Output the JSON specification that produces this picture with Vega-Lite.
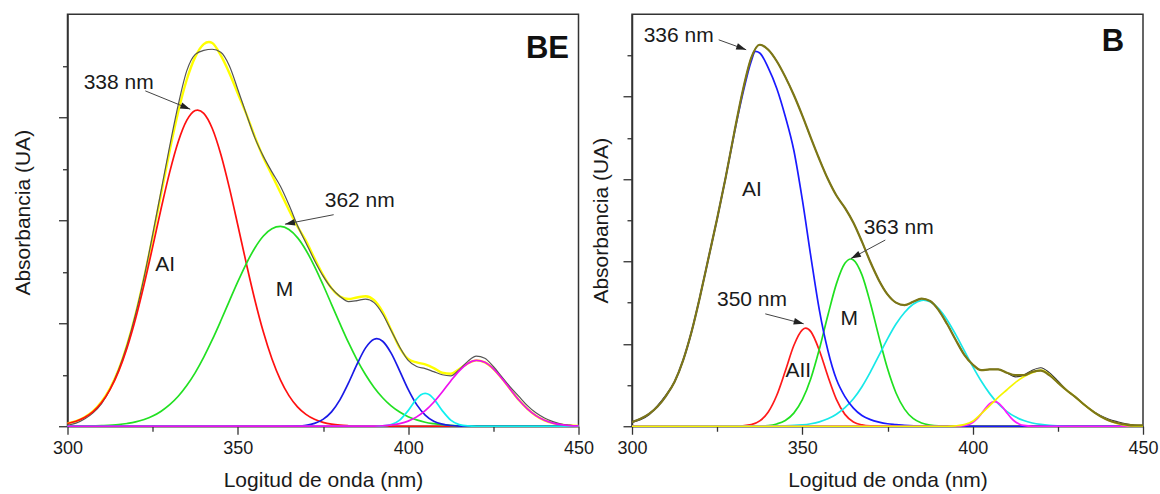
{
  "$schema": "https://vega.github.io/schema/vega-lite/v6.json",
  "autosize": {"type": "pad"},
  "padding": {"left": 10.5, "top": 13.25, "right": 0, "bottom": 0},
  "background": "white",
  "config": {
    "font": "Liberation Sans",
    "view": {"stroke": "#333333", "strokeWidth": 1.5},
    "axis": {"domainColor": "#333333", "domainWidth": 1.5, "tickColor": "#333333", "tickWidth": 1.3, "grid": false, "labelFont": "Liberation Sans", "titleFont": "Liberation Sans", "labelColor": "#1a1a1a", "titleColor": "#1a1a1a", "titleFontWeight": "normal"},
    "text": {"font": "Liberation Sans"}
  },
  "datasets": {
    "L": [
      {"s":"f","x":300,"y":0.028},{"s":"f","x":302.5,"y":0.05},{"s":"f","x":305,"y":0.087},{"s":"f","x":307.5,"y":0.146},{"s":"f","x":310,"y":0.237},{"s":"f","x":312.5,"y":0.368},{"s":"f","x":315,"y":0.549},{"s":"f","x":317.5,"y":0.79},{"s":"f","x":320,"y":1.088},{"s":"f","x":322.5,"y":1.444},{"s":"f","x":325,"y":1.841},{"s":"f","x":327.5,"y":2.262},{"s":"f","x":330,"y":2.676},{"s":"f","x":332.5,"y":3.053},{"s":"f","x":335,"y":3.364},{"s":"f","x":337.5,"y":3.586},{"s":"f","x":340,"y":3.71},{"s":"f","x":341.5,"y":3.73},{"s":"f","x":342.5,"y":3.72},{"s":"f","x":345,"y":3.6},{"s":"f","x":347.5,"y":3.43},{"s":"f","x":350,"y":3.23},{"s":"f","x":352.5,"y":3.03},{"s":"f","x":355,"y":2.81},{"s":"f","x":357.5,"y":2.61},{"s":"f","x":360,"y":2.44},{"s":"f","x":362.5,"y":2.27},{"s":"f","x":365,"y":2.1},{"s":"f","x":367.5,"y":1.94},{"s":"f","x":370,"y":1.8},{"s":"f","x":372.5,"y":1.63},{"s":"f","x":375,"y":1.47},{"s":"f","x":377.5,"y":1.34},{"s":"f","x":380,"y":1.26},{"s":"f","x":382.5,"y":1.235},{"s":"f","x":385,"y":1.25},{"s":"f","x":387.5,"y":1.262},{"s":"f","x":390,"y":1.224},{"s":"f","x":392.5,"y":1.11},{"s":"f","x":395,"y":0.936},{"s":"f","x":397.5,"y":0.762},{"s":"f","x":400,"y":0.653},{"s":"f","x":402.5,"y":0.62},{"s":"f","x":405,"y":0.6},{"s":"f","x":407.5,"y":0.565},{"s":"f","x":410,"y":0.519},{"s":"f","x":412.5,"y":0.51},{"s":"f","x":415,"y":0.555},{"s":"f","x":417.5,"y":0.61},{"s":"f","x":420,"y":0.64},{"s":"f","x":422.5,"y":0.621},{"s":"f","x":425,"y":0.558},{"s":"f","x":427.5,"y":0.465},{"s":"f","x":430,"y":0.358},{"s":"f","x":432.5,"y":0.255},{"s":"f","x":435,"y":0.169},{"s":"f","x":437.5,"y":0.103},{"s":"f","x":440,"y":0.058},{"s":"f","x":442.5,"y":0.031},{"s":"f","x":445,"y":0.015},{"s":"f","x":447.5,"y":0.007},{"s":"f","x":450,"y":0.003},
      {"s":"d","x":300,"y":0.01},{"s":"d","x":302.5,"y":0.03},{"s":"d","x":305,"y":0.07},{"s":"d","x":307.5,"y":0.13},{"s":"d","x":310,"y":0.22},{"s":"d","x":312.5,"y":0.36},{"s":"d","x":315,"y":0.55},{"s":"d","x":317.5,"y":0.79},{"s":"d","x":320,"y":1.09},{"s":"d","x":322.5,"y":1.45},{"s":"d","x":325,"y":1.86},{"s":"d","x":327.5,"y":2.29},{"s":"d","x":330,"y":2.72},{"s":"d","x":332.5,"y":3.12},{"s":"d","x":335,"y":3.45},{"s":"d","x":337.5,"y":3.61},{"s":"d","x":340,"y":3.65},{"s":"d","x":342.5,"y":3.66},{"s":"d","x":345,"y":3.63},{"s":"d","x":347.5,"y":3.5},{"s":"d","x":350,"y":3.27},{"s":"d","x":352.5,"y":3.03},{"s":"d","x":355,"y":2.8},{"s":"d","x":357.5,"y":2.62},{"s":"d","x":360,"y":2.47},{"s":"d","x":362.5,"y":2.33},{"s":"d","x":365,"y":2.15},{"s":"d","x":367.5,"y":1.95},{"s":"d","x":370,"y":1.78},{"s":"d","x":372.5,"y":1.61},{"s":"d","x":375,"y":1.46},{"s":"d","x":377.5,"y":1.34},{"s":"d","x":380,"y":1.26},{"s":"d","x":382.5,"y":1.21},{"s":"d","x":385,"y":1.22},{"s":"d","x":387.5,"y":1.235},{"s":"d","x":390,"y":1.2},{"s":"d","x":392.5,"y":1.09},{"s":"d","x":395,"y":0.93},{"s":"d","x":397.5,"y":0.77},{"s":"d","x":400,"y":0.64},{"s":"d","x":402.5,"y":0.58},{"s":"d","x":405,"y":0.56},{"s":"d","x":407.5,"y":0.53},{"s":"d","x":410,"y":0.5},{"s":"d","x":412.5,"y":0.49},{"s":"d","x":415,"y":0.55},{"s":"d","x":417.5,"y":0.63},{"s":"d","x":420,"y":0.68},{"s":"d","x":422.5,"y":0.66},{"s":"d","x":425,"y":0.58},{"s":"d","x":427.5,"y":0.48},{"s":"d","x":430,"y":0.38},{"s":"d","x":432.5,"y":0.29},{"s":"d","x":435,"y":0.2},{"s":"d","x":437.5,"y":0.13},{"s":"d","x":440,"y":0.08},{"s":"d","x":442.5,"y":0.045},{"s":"d","x":445,"y":0.02},{"s":"d","x":447.5,"y":0.01},{"s":"d","x":450,"y":0},
      {"s":"r","x":300,"y":0.027},{"s":"r","x":302.5,"y":0.049},{"s":"r","x":305,"y":0.085},{"s":"r","x":307.5,"y":0.143},{"s":"r","x":310,"y":0.231},{"s":"r","x":312.5,"y":0.358},{"s":"r","x":315,"y":0.533},{"s":"r","x":317.5,"y":0.763},{"s":"r","x":320,"y":1.046},{"s":"r","x":322.5,"y":1.378},{"s":"r","x":325,"y":1.742},{"s":"r","x":327.5,"y":2.116},{"s":"r","x":330,"y":2.467},{"s":"r","x":332.5,"y":2.762},{"s":"r","x":335,"y":2.969},{"s":"r","x":337.5,"y":3.065},{"s":"r","x":338.2,"y":3.07},{"s":"r","x":340,"y":3.038},{"s":"r","x":342.5,"y":2.891},{"s":"r","x":345,"y":2.641},{"s":"r","x":347.5,"y":2.317},{"s":"r","x":350,"y":1.952},{"s":"r","x":352.5,"y":1.579},{"s":"r","x":355,"y":1.226},{"s":"r","x":357.5,"y":0.914},{"s":"r","x":360,"y":0.655},{"s":"r","x":362.5,"y":0.45},{"s":"r","x":365,"y":0.297},{"s":"r","x":367.5,"y":0.188},{"s":"r","x":370,"y":0.115},{"s":"r","x":372.5,"y":0.067},{"s":"r","x":375,"y":0.038},{"s":"r","x":377.5,"y":0.02},{"s":"r","x":380,"y":0.01},{"s":"r","x":382.5,"y":0.005},{"s":"r","x":385,"y":0.002},{"s":"r","x":390,"y":0},{"s":"r","x":450,"y":0},
      {"s":"g","x":300,"y":0},{"s":"g","x":305,"y":0.002},{"s":"g","x":310,"y":0.006},{"s":"g","x":315,"y":0.016},{"s":"g","x":317.5,"y":0.027},{"s":"g","x":320,"y":0.042},{"s":"g","x":322.5,"y":0.066},{"s":"g","x":325,"y":0.099},{"s":"g","x":327.5,"y":0.146},{"s":"g","x":330,"y":0.209},{"s":"g","x":332.5,"y":0.291},{"s":"g","x":335,"y":0.395},{"s":"g","x":337.5,"y":0.521},{"s":"g","x":340,"y":0.671},{"s":"g","x":342.5,"y":0.84},{"s":"g","x":345,"y":1.024},{"s":"g","x":347.5,"y":1.215},{"s":"g","x":350,"y":1.404},{"s":"g","x":352.5,"y":1.58},{"s":"g","x":355,"y":1.731},{"s":"g","x":357.5,"y":1.847},{"s":"g","x":360,"y":1.918},{"s":"g","x":362.5,"y":1.94},{"s":"g","x":365,"y":1.91},{"s":"g","x":367.5,"y":1.831},{"s":"g","x":370,"y":1.709},{"s":"g","x":372.5,"y":1.553},{"s":"g","x":375,"y":1.374},{"s":"g","x":377.5,"y":1.184},{"s":"g","x":380,"y":0.994},{"s":"g","x":382.5,"y":0.811},{"s":"g","x":385,"y":0.645},{"s":"g","x":387.5,"y":0.5},{"s":"g","x":390,"y":0.377},{"s":"g","x":392.5,"y":0.277},{"s":"g","x":395,"y":0.198},{"s":"g","x":397.5,"y":0.138},{"s":"g","x":400,"y":0.093},{"s":"g","x":402.5,"y":0.062},{"s":"g","x":405,"y":0.039},{"s":"g","x":407.5,"y":0.025},{"s":"g","x":410,"y":0.015},{"s":"g","x":412.5,"y":0.009},{"s":"g","x":415,"y":0.005},{"s":"g","x":420,"y":0.001},{"s":"g","x":450,"y":0},
      {"s":"b","x":300,"y":0},{"s":"b","x":362.5,"y":0},{"s":"b","x":365,"y":0.001},{"s":"b","x":367.5,"y":0.003},{"s":"b","x":370,"y":0.01},{"s":"b","x":372.5,"y":0.028},{"s":"b","x":375,"y":0.067},{"s":"b","x":377.5,"y":0.14},{"s":"b","x":380,"y":0.259},{"s":"b","x":382.5,"y":0.421},{"s":"b","x":385,"y":0.603},{"s":"b","x":387.5,"y":0.761},{"s":"b","x":390,"y":0.845},{"s":"b","x":390.8,"y":0.85},{"s":"b","x":392.5,"y":0.825},{"s":"b","x":395,"y":0.71},{"s":"b","x":397.5,"y":0.538},{"s":"b","x":400,"y":0.358},{"s":"b","x":402.5,"y":0.21},{"s":"b","x":405,"y":0.109},{"s":"b","x":407.5,"y":0.049},{"s":"b","x":410,"y":0.02},{"s":"b","x":412.5,"y":0.007},{"s":"b","x":415,"y":0.002},{"s":"b","x":420,"y":0},{"s":"b","x":450,"y":0},
      {"s":"c","x":300,"y":0},{"s":"c","x":390,"y":0},{"s":"c","x":392.5,"y":0.003},{"s":"c","x":395,"y":0.016},{"s":"c","x":397.5,"y":0.06},{"s":"c","x":400,"y":0.152},{"s":"c","x":402.5,"y":0.266},{"s":"c","x":403.75,"y":0.306},{"s":"c","x":405,"y":0.32},{"s":"c","x":406.25,"y":0.306},{"s":"c","x":407.5,"y":0.266},{"s":"c","x":410,"y":0.152},{"s":"c","x":412.5,"y":0.06},{"s":"c","x":415,"y":0.016},{"s":"c","x":417.5,"y":0.003},{"s":"c","x":420,"y":0},{"s":"c","x":450,"y":0},
      {"s":"m","x":300,"y":0},{"s":"m","x":385,"y":0.001},{"s":"m","x":390,"y":0.002},{"s":"m","x":392.5,"y":0.005},{"s":"m","x":395,"y":0.012},{"s":"m","x":397.5,"y":0.026},{"s":"m","x":400,"y":0.05},{"s":"m","x":402.5,"y":0.091},{"s":"m","x":405,"y":0.151},{"s":"m","x":407.5,"y":0.233},{"s":"m","x":410,"y":0.332},{"s":"m","x":412.5,"y":0.44},{"s":"m","x":415,"y":0.538},{"s":"m","x":417.5,"y":0.61},{"s":"m","x":420,"y":0.64},{"s":"m","x":422.5,"y":0.621},{"s":"m","x":425,"y":0.558},{"s":"m","x":427.5,"y":0.465},{"s":"m","x":430,"y":0.358},{"s":"m","x":432.5,"y":0.255},{"s":"m","x":435,"y":0.169},{"s":"m","x":437.5,"y":0.103},{"s":"m","x":440,"y":0.058},{"s":"m","x":442.5,"y":0.031},{"s":"m","x":445,"y":0.015},{"s":"m","x":447.5,"y":0.007},{"s":"m","x":450,"y":0.003}
    ],
    "R": [
      {"s":"f","x":300,"y":0.05},{"s":"f","x":302.5,"y":0.09},{"s":"f","x":305,"y":0.15},{"s":"f","x":307.5,"y":0.24},{"s":"f","x":310,"y":0.37},{"s":"f","x":312.5,"y":0.54},{"s":"f","x":315,"y":0.8},{"s":"f","x":317.5,"y":1.15},{"s":"f","x":320,"y":1.58},{"s":"f","x":322.5,"y":2.05},{"s":"f","x":325,"y":2.52},{"s":"f","x":327.5,"y":3.02},{"s":"f","x":330,"y":3.56},{"s":"f","x":332.5,"y":4.07},{"s":"f","x":335,"y":4.47},{"s":"f","x":337.5,"y":4.63},{"s":"f","x":340,"y":4.57},{"s":"f","x":342.5,"y":4.43},{"s":"f","x":345,"y":4.24},{"s":"f","x":347.5,"y":4.02},{"s":"f","x":350,"y":3.77},{"s":"f","x":352.5,"y":3.5},{"s":"f","x":355,"y":3.24},{"s":"f","x":357.5,"y":3.0},{"s":"f","x":360,"y":2.8},{"s":"f","x":362.5,"y":2.65},{"s":"f","x":365,"y":2.47},{"s":"f","x":367.5,"y":2.24},{"s":"f","x":370,"y":1.99},{"s":"f","x":372.5,"y":1.77},{"s":"f","x":375,"y":1.6},{"s":"f","x":377.5,"y":1.5},{"s":"f","x":380,"y":1.47},{"s":"f","x":382.5,"y":1.51},{"s":"f","x":385,"y":1.55},{"s":"f","x":387.5,"y":1.52},{"s":"f","x":390,"y":1.41},{"s":"f","x":392.5,"y":1.24},{"s":"f","x":395,"y":1.05},{"s":"f","x":397.5,"y":0.87},{"s":"f","x":400,"y":0.75},{"s":"f","x":402.5,"y":0.68},{"s":"f","x":405,"y":0.69},{"s":"f","x":407.5,"y":0.69},{"s":"f","x":410,"y":0.65},{"s":"f","x":412.5,"y":0.62},{"s":"f","x":415,"y":0.62},{"s":"f","x":417.5,"y":0.66},{"s":"f","x":420,"y":0.675},{"s":"f","x":422.5,"y":0.62},{"s":"f","x":425,"y":0.53},{"s":"f","x":427.5,"y":0.44},{"s":"f","x":430,"y":0.36},{"s":"f","x":432.5,"y":0.27},{"s":"f","x":435,"y":0.19},{"s":"f","x":437.5,"y":0.12},{"s":"f","x":440,"y":0.07},{"s":"f","x":442.5,"y":0.04},{"s":"f","x":445,"y":0.02},{"s":"f","x":447.5,"y":0.01},{"s":"f","x":450,"y":0.01},
      {"s":"d","x":300,"y":0.05},{"s":"d","x":302.5,"y":0.08},{"s":"d","x":305,"y":0.14},{"s":"d","x":307.5,"y":0.25},{"s":"d","x":310,"y":0.38},{"s":"d","x":312.5,"y":0.54},{"s":"d","x":315,"y":0.8},{"s":"d","x":317.5,"y":1.15},{"s":"d","x":320,"y":1.58},{"s":"d","x":322.5,"y":2.05},{"s":"d","x":325,"y":2.52},{"s":"d","x":327.5,"y":3.02},{"s":"d","x":330,"y":3.56},{"s":"d","x":332.5,"y":4.07},{"s":"d","x":335,"y":4.47},{"s":"d","x":337.5,"y":4.63},{"s":"d","x":340,"y":4.57},{"s":"d","x":342.5,"y":4.43},{"s":"d","x":345,"y":4.24},{"s":"d","x":347.5,"y":4.02},{"s":"d","x":350,"y":3.77},{"s":"d","x":352.5,"y":3.5},{"s":"d","x":355,"y":3.24},{"s":"d","x":357.5,"y":3.0},{"s":"d","x":360,"y":2.8},{"s":"d","x":362.5,"y":2.65},{"s":"d","x":365,"y":2.47},{"s":"d","x":367.5,"y":2.24},{"s":"d","x":370,"y":1.99},{"s":"d","x":372.5,"y":1.77},{"s":"d","x":375,"y":1.6},{"s":"d","x":377.5,"y":1.5},{"s":"d","x":380,"y":1.47},{"s":"d","x":382.5,"y":1.51},{"s":"d","x":385,"y":1.55},{"s":"d","x":387.5,"y":1.52},{"s":"d","x":390,"y":1.41},{"s":"d","x":392.5,"y":1.24},{"s":"d","x":395,"y":1.05},{"s":"d","x":397.5,"y":0.87},{"s":"d","x":400,"y":0.75},{"s":"d","x":402.5,"y":0.68},{"s":"d","x":405,"y":0.69},{"s":"d","x":407.5,"y":0.69},{"s":"d","x":410,"y":0.65},{"s":"d","x":412.5,"y":0.6},{"s":"d","x":415,"y":0.62},{"s":"d","x":417.5,"y":0.68},{"s":"d","x":420,"y":0.71},{"s":"d","x":422.5,"y":0.65},{"s":"d","x":425,"y":0.55},{"s":"d","x":427.5,"y":0.44},{"s":"d","x":430,"y":0.36},{"s":"d","x":432.5,"y":0.27},{"s":"d","x":435,"y":0.19},{"s":"d","x":437.5,"y":0.13},{"s":"d","x":440,"y":0.085},{"s":"d","x":442.5,"y":0.055},{"s":"d","x":445,"y":0.03},{"s":"d","x":447.5,"y":0.015},{"s":"d","x":450,"y":0.01},
      {"s":"b","x":300,"y":0.05},{"s":"b","x":302.5,"y":0.09},{"s":"b","x":305,"y":0.15},{"s":"b","x":307.5,"y":0.24},{"s":"b","x":310,"y":0.37},{"s":"b","x":312.5,"y":0.54},{"s":"b","x":315,"y":0.8},{"s":"b","x":317.5,"y":1.15},{"s":"b","x":320,"y":1.58},{"s":"b","x":322.5,"y":2.05},{"s":"b","x":325,"y":2.52},{"s":"b","x":327.5,"y":3.02},{"s":"b","x":330,"y":3.55},{"s":"b","x":332.5,"y":4.03},{"s":"b","x":335,"y":4.43},{"s":"b","x":336.2,"y":4.55},{"s":"b","x":337.5,"y":4.53},{"s":"b","x":340,"y":4.35},{"s":"b","x":342.5,"y":4.1},{"s":"b","x":345,"y":3.76},{"s":"b","x":347.5,"y":3.35},{"s":"b","x":350,"y":2.75},{"s":"b","x":352.5,"y":2.06},{"s":"b","x":355,"y":1.41},{"s":"b","x":357.5,"y":0.92},{"s":"b","x":360,"y":0.57},{"s":"b","x":362.5,"y":0.36},{"s":"b","x":365,"y":0.22},{"s":"b","x":367.5,"y":0.13},{"s":"b","x":370,"y":0.08},{"s":"b","x":372.5,"y":0.05},{"s":"b","x":375,"y":0.03},{"s":"b","x":377.5,"y":0.02},{"s":"b","x":380,"y":0.01},{"s":"b","x":385,"y":0},{"s":"b","x":450,"y":0},
      {"s":"r","x":300,"y":0},{"s":"r","x":330,"y":0},{"s":"r","x":335,"y":0.02},{"s":"r","x":337.5,"y":0.065},{"s":"r","x":340,"y":0.173},{"s":"r","x":342.5,"y":0.376},{"s":"r","x":345,"y":0.67},{"s":"r","x":347.5,"y":0.98},{"s":"r","x":350,"y":1.17},{"s":"r","x":351,"y":1.19},{"s":"r","x":352.5,"y":1.148},{"s":"r","x":355,"y":0.92},{"s":"r","x":357.5,"y":0.607},{"s":"r","x":360,"y":0.327},{"s":"r","x":362.5,"y":0.144},{"s":"r","x":365,"y":0.052},{"s":"r","x":367.5,"y":0.016},{"s":"r","x":370,"y":0.004},{"s":"r","x":375,"y":0},{"s":"r","x":450,"y":0},
      {"s":"g","x":300,"y":0},{"s":"g","x":335,"y":0},{"s":"g","x":340,"y":0.009},{"s":"g","x":342.5,"y":0.028},{"s":"g","x":345,"y":0.07},{"s":"g","x":347.5,"y":0.159},{"s":"g","x":350,"y":0.322},{"s":"g","x":352.5,"y":0.58},{"s":"g","x":355,"y":0.937},{"s":"g","x":357.5,"y":1.347},{"s":"g","x":360,"y":1.728},{"s":"g","x":362.5,"y":1.977},{"s":"g","x":364.2,"y":2.03},{"s":"g","x":365,"y":2.018},{"s":"g","x":367.5,"y":1.837},{"s":"g","x":370,"y":1.49},{"s":"g","x":372.5,"y":1.082},{"s":"g","x":375,"y":0.7},{"s":"g","x":377.5,"y":0.404},{"s":"g","x":380,"y":0.208},{"s":"g","x":382.5,"y":0.095},{"s":"g","x":385,"y":0.039},{"s":"g","x":387.5,"y":0.014},{"s":"g","x":390,"y":0.004},{"s":"g","x":395,"y":0},{"s":"g","x":450,"y":0},
      {"s":"c","x":300,"y":0},{"s":"c","x":345,"y":0.006},{"s":"c","x":350,"y":0.016},{"s":"c","x":352.5,"y":0.03},{"s":"c","x":355,"y":0.053},{"s":"c","x":357.5,"y":0.09},{"s":"c","x":360,"y":0.146},{"s":"c","x":362.5,"y":0.225},{"s":"c","x":365,"y":0.333},{"s":"c","x":367.5,"y":0.48},{"s":"c","x":370,"y":0.66},{"s":"c","x":372.5,"y":0.86},{"s":"c","x":375,"y":1.06},{"s":"c","x":377.5,"y":1.24},{"s":"c","x":380,"y":1.38},{"s":"c","x":382.5,"y":1.48},{"s":"c","x":385,"y":1.528},{"s":"c","x":385.6,"y":1.53},{"s":"c","x":387.5,"y":1.51},{"s":"c","x":390,"y":1.427},{"s":"c","x":392.5,"y":1.29},{"s":"c","x":395,"y":1.114},{"s":"c","x":397.5,"y":0.921},{"s":"c","x":400,"y":0.727},{"s":"c","x":402.5,"y":0.549},{"s":"c","x":405,"y":0.396},{"s":"c","x":407.5,"y":0.273},{"s":"c","x":410,"y":0.18},{"s":"c","x":412.5,"y":0.114},{"s":"c","x":415,"y":0.069},{"s":"c","x":417.5,"y":0.04},{"s":"c","x":420,"y":0.022},{"s":"c","x":422.5,"y":0.011},{"s":"c","x":425,"y":0.005},{"s":"c","x":430,"y":0},{"s":"c","x":450,"y":0},
      {"s":"m","x":300,"y":0},{"s":"m","x":395,"y":0},{"s":"m","x":397.5,"y":0.008},{"s":"m","x":398.75,"y":0.02},{"s":"m","x":400,"y":0.046},{"s":"m","x":401.25,"y":0.089},{"s":"m","x":402.5,"y":0.149},{"s":"m","x":403.75,"y":0.217},{"s":"m","x":405,"y":0.274},{"s":"m","x":406.4,"y":0.3},{"s":"m","x":407.5,"y":0.284},{"s":"m","x":408.75,"y":0.233},{"s":"m","x":410,"y":0.165},{"s":"m","x":411.25,"y":0.102},{"s":"m","x":412.5,"y":0.054},{"s":"m","x":413.75,"y":0.025},{"s":"m","x":415,"y":0.01},{"s":"m","x":417.5,"y":0},{"s":"m","x":450,"y":0},
      {"s":"y","x":300,"y":0},{"s":"y","x":392.5,"y":0},{"s":"y","x":395,"y":0.005},{"s":"y","x":397.5,"y":0.02},{"s":"y","x":400,"y":0.06},{"s":"y","x":402.5,"y":0.15},{"s":"y","x":405,"y":0.25},{"s":"y","x":407.5,"y":0.35},{"s":"y","x":410,"y":0.44},{"s":"y","x":412.5,"y":0.53},{"s":"y","x":415,"y":0.6},{"s":"y","x":417.5,"y":0.65},{"s":"y","x":420,"y":0.68},{"s":"y","x":422.5,"y":0.63},{"s":"y","x":425,"y":0.53},{"s":"y","x":427.5,"y":0.44},{"s":"y","x":430,"y":0.36},{"s":"y","x":432.5,"y":0.27},{"s":"y","x":435,"y":0.19},{"s":"y","x":437.5,"y":0.12},{"s":"y","x":440,"y":0.07},{"s":"y","x":442.5,"y":0.03},{"s":"y","x":445,"y":0.01},{"s":"y","x":447.5,"y":0},{"s":"y","x":450,"y":0}
    ]
  },
  "hconcat": [
    {
      "width": 511,
      "height": 412,
      "data": {"name": "L"},
      "encoding": {
        "x": {"field": "x", "type": "quantitative", "scale": {"domain": [300, 450], "nice": false, "zero": false},
          "axis": {"values": [300, 325, 350, 375, 400, 425, 450], "labelExpr": "datum.value % 50 === 0 ? datum.label : ''", "tickSize": {"condition": {"test": "datum.value % 50 === 0", "value": 8}, "value": 5}, "labelFontSize": 18, "labelPadding": 5, "labelOverlap": false, "labelFlush": false, "title": "Logitud de onda (nm)", "titleFontSize": 21, "titleY": 60, "titleBaseline": "alphabetic"}},
        "y": {"field": "y", "type": "quantitative", "scale": {"domain": [0, 4], "nice": false, "zero": false},
          "axis": {"values": [0, 0.5, 1, 1.5, 2, 2.5, 3, 3.5], "labels": false, "tickSize": {"condition": {"test": "datum.value % 1 === 0", "value": 9}, "value": 5}, "title": "Absorbancia (UA)", "titleFontSize": 21, "titleX": -44.5, "titleY": 198, "titleAngle": -90, "titleAlign": "center", "titleBaseline": "middle"}}
      },
      "layer": [
        {"transform": [{"filter": "datum.s === 'f'"}], "mark": {"type": "line", "color": "#ffff00", "strokeWidth": 2.4, "interpolate": "monotone"}},
        {"transform": [{"filter": "datum.s === 'd'"}], "mark": {"type": "line", "color": "#555555", "strokeWidth": 1.2, "interpolate": "monotone"}},
        {"transform": [{"filter": "datum.s === 'r'"}], "mark": {"type": "line", "color": "#ff1010", "strokeWidth": 1.7, "interpolate": "monotone"}},
        {"transform": [{"filter": "datum.s === 'g'"}], "mark": {"type": "line", "color": "#22e022", "strokeWidth": 1.7, "interpolate": "monotone"}},
        {"transform": [{"filter": "datum.s === 'b'"}], "mark": {"type": "line", "color": "#1a1ae6", "strokeWidth": 1.7, "interpolate": "monotone"}},
        {"transform": [{"filter": "datum.s === 'c'"}], "mark": {"type": "line", "color": "#10f0f0", "strokeWidth": 1.7, "interpolate": "monotone"}},
        {"transform": [{"filter": "datum.s === 'm'"}], "mark": {"type": "line", "color": "#ee10ee", "strokeWidth": 1.7, "interpolate": "monotone"}},
        {"data": {"values": [{"x": 322.84, "y": 3.256, "x2": 336.04, "y2": 3.078}, {"x": 378.13, "y": 2.054, "x2": 363.84, "y2": 1.962}]},
          "mark": {"type": "rule", "color": "#444444", "strokeWidth": 1},
          "encoding": {"x2": {"field": "x2"}, "y2": {"field": "y2"}}},
        {"data": {"values": [{"x": 336.04, "y": 3.078, "a": 22}, {"x": 363.84, "y": 1.962, "a": 169}]},
          "mark": {"type": "point", "shape": "M0,0L-2,-0.65L-2,0.65Z", "filled": true, "color": "#222222", "opacity": 1, "size": 100, "strokeWidth": 0},
          "encoding": {"angle": {"field": "a", "type": "quantitative", "scale": null}}},
        {"data": {"values": [{"t": "338 nm", "x": 315.03, "y": 3.335}, {"t": "362 nm", "x": 385.79, "y": 2.19}, {"t": "AI", "x": 328.7, "y": 1.568}, {"t": "M", "x": 363.7, "y": 1.318}]},
          "mark": {"type": "text", "fontSize": 21, "align": "center", "baseline": "middle", "color": "#1a1a1a"},
          "encoding": {"text": {"field": "t"}}},
        {"data": {"values": [{"t": "BE", "x": 440.9, "y": 3.666}]},
          "mark": {"type": "text", "fontSize": 31, "fontWeight": "bold", "align": "center", "baseline": "middle", "color": "#111111"},
          "encoding": {"text": {"field": "t"}}}
      ]
    },
    {
      "width": 511,
      "height": 412,
      "data": {"name": "R"},
      "encoding": {
        "x": {"field": "x", "type": "quantitative", "scale": {"domain": [300, 450], "nice": false, "zero": false},
          "axis": {"values": [300, 325, 350, 375, 400, 425, 450], "labelExpr": "datum.value % 50 === 0 ? datum.label : ''", "tickSize": {"condition": {"test": "datum.value % 50 === 0", "value": 8}, "value": 5}, "labelFontSize": 18, "labelPadding": 5, "labelOverlap": false, "labelFlush": false, "title": "Logitud de onda (nm)", "titleFontSize": 21, "titleY": 60, "titleBaseline": "alphabetic"}},
        "y": {"field": "y", "type": "quantitative", "scale": {"domain": [0, 5], "nice": false, "zero": false},
          "axis": {"values": [0, 0.5, 1, 1.5, 2, 2.5, 3, 3.5, 4, 4.5], "labels": false, "tickSize": {"condition": {"test": "datum.value % 1 === 0", "value": 9}, "value": 5}, "title": "Absorbancia (UA)", "titleFontSize": 21, "titleX": -31, "titleY": 206, "titleAngle": -90, "titleAlign": "center", "titleBaseline": "middle"}}
      },
      "layer": [
        {"transform": [{"filter": "datum.s === 'd'"}], "mark": {"type": "line", "color": "#333333", "strokeWidth": 1.2, "interpolate": "monotone"}},
        {"transform": [{"filter": "datum.s === 'r'"}], "mark": {"type": "line", "color": "#ff1a1a", "strokeWidth": 1.7, "interpolate": "monotone"}},
        {"transform": [{"filter": "datum.s === 'g'"}], "mark": {"type": "line", "color": "#20e020", "strokeWidth": 1.7, "interpolate": "monotone"}},
        {"transform": [{"filter": "datum.s === 'c'"}], "mark": {"type": "line", "color": "#18e8e8", "strokeWidth": 1.7, "interpolate": "monotone"}},
        {"transform": [{"filter": "datum.s === 'b'"}], "mark": {"type": "line", "color": "#1a1aff", "strokeWidth": 1.7, "interpolate": "monotone"}},
        {"transform": [{"filter": "datum.s === 'm'"}], "mark": {"type": "line", "color": "#ff18ff", "strokeWidth": 1.7, "interpolate": "monotone"}},
        {"transform": [{"filter": "datum.s === 'y'"}], "mark": {"type": "line", "color": "#f5f500", "strokeWidth": 1.7, "interpolate": "monotone"}},
        {"transform": [{"filter": "datum.s === 'f'"}], "mark": {"type": "line", "color": "#7d7716", "strokeWidth": 2.2, "interpolate": "monotone"}},
        {"data": {"values": [{"x": 325.45, "y": 4.69, "x2": 333.52, "y2": 4.569}, {"x": 339.12, "y": 1.364, "x2": 350.4, "y2": 1.243}, {"x": 374.35, "y": 2.26, "x2": 364.28, "y2": 2.036}]},
          "mark": {"type": "rule", "color": "#444444", "strokeWidth": 1},
          "encoding": {"x2": {"field": "x2"}, "y2": {"field": "y2"}}},
        {"data": {"values": [{"x": 333.52, "y": 4.569, "a": 20}, {"x": 350.4, "y": 1.243, "a": 15}, {"x": 364.28, "y": 2.036, "a": 152}]},
          "mark": {"type": "point", "shape": "M0,0L-2,-0.65L-2,0.65Z", "filled": true, "color": "#222222", "opacity": 1, "size": 100, "strokeWidth": 0},
          "encoding": {"angle": {"field": "a", "type": "quantitative", "scale": null}}},
        {"data": {"values": [{"t": "336 nm", "x": 313.71, "y": 4.733}, {"t": "350 nm", "x": 335.22, "y": 1.531}, {"t": "363 nm", "x": 378.28, "y": 2.412}, {"t": "AI", "x": 335.2, "y": 2.866}, {"t": "AII", "x": 348.8, "y": 0.666}, {"t": "M", "x": 363.8, "y": 1.3}]},
          "mark": {"type": "text", "fontSize": 21, "align": "center", "baseline": "middle", "color": "#1a1a1a"},
          "encoding": {"text": {"field": "t"}}},
        {"data": {"values": [{"t": "B", "x": 441.2, "y": 4.66}]},
          "mark": {"type": "text", "fontSize": 31, "fontWeight": "bold", "align": "center", "baseline": "middle", "color": "#111111"},
          "encoding": {"text": {"field": "t"}}}
      ]
    }
  ],
  "spacing": 53.5,
  "bounds": "flush"
}
